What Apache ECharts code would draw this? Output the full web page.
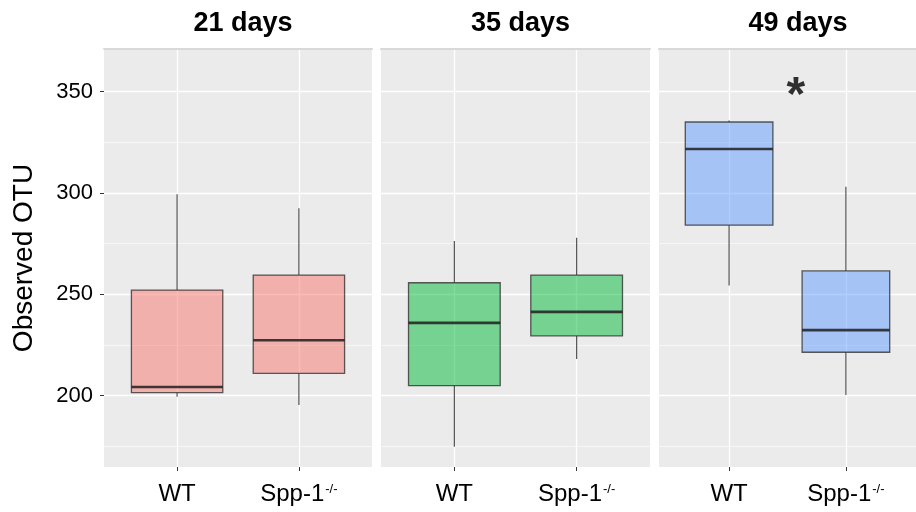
<!DOCTYPE html>
<html><head><meta charset="UTF-8">
<title>Observed OTU</title>
<script src="https://cdn.jsdelivr.net/npm/echarts@6/dist/echarts.min.js"></script>
<style>html,body{margin:0;padding:0;background:#fff;}</style>
</head>
<body>
<div id="main" style="width:916px;height:512px;"></div>
<script type="text/javascript">
// facets and groups
var panels = ['21 days', '35 days', '49 days'];
var groups = ['WT', 'Spp-1'];
var groupPos = [1, 2];
// box stats: [lower whisker, q1, median, q3, upper whisker]
var d21 = [[199.5, 201.5, 204.3, 252.1, 299.3], [195.4, 211.0, 227.3, 259.5, 292.5]];
var d35 = [[174.8, 204.9, 235.9, 255.7, 276.3], [218.1, 229.5, 241.3, 259.5, 277.9]];
var d49 = [[254.3, 284.1, 321.7, 335.0, 335.7], [200.3, 221.4, 232.3, 261.5, 303.1]];
var yTicks = [200, 250, 300, 350];
var yMinor = [175, 225, 275, 325];
var star = [1.52, 351];

var allData = [d21, d35, d49];
var fills = ['rgba(248,118,109,0.5)', 'rgba(0,186,56,0.5)', 'rgba(97,156,255,0.5)'];
var gridLeft = [104, 381, 659];
var gridWidth = [268, 269, 268];
var FONT = 'Liberation Sans, Arial, Helvetica, sans-serif';

function renderBox(params, api) {
    var x = api.value(0);
    var half = api.size([0.75, 0])[0] / 2;
    var lo = api.coord([x, api.value(1)]);
    var q1 = api.coord([x, api.value(2)]);
    var md = api.coord([x, api.value(3)]);
    var q3 = api.coord([x, api.value(4)]);
    var hi = api.coord([x, api.value(5)]);
    var cx = lo[0];
    var wStyle = {stroke: 'rgba(40,40,40,0.8)', lineWidth: 1.2};
    return {
        type: 'group',
        children: [
            {type: 'line', shape: {x1: cx, y1: q3[1], x2: cx, y2: hi[1]}, style: wStyle},
            {type: 'line', shape: {x1: cx, y1: q1[1], x2: cx, y2: lo[1]}, style: wStyle},
            {type: 'rect', shape: {x: cx - half, y: q3[1], width: half * 2, height: q1[1] - q3[1]},
                style: {fill: api.visual('color'), stroke: 'rgba(40,40,40,0.75)', lineWidth: 1.3}},
            {type: 'line', shape: {x1: cx - half, y1: md[1], x2: cx + half, y2: md[1]},
                style: {stroke: 'rgba(30,30,30,0.85)', lineWidth: 2.6}}
        ]
    };
}

var grid = [], xAxis = [], yAxis = [], series = [], title = [];
panels.forEach(function (p, i) {
    grid.push({left: gridLeft[i], top: 49, width: gridWidth[i], height: 418,
        show: true, backgroundColor: '#EBEBEB', borderWidth: 0});
    title.push({text: p, left: gridLeft[i] + gridWidth[i] / 2, top: 5, textAlign: 'center',
        textStyle: {fontFamily: FONT, fontSize: 27, fontWeight: 'bold', color: '#000'}});
});
// bottom x axes (groups)
panels.forEach(function (p, i) {
    xAxis.push({
        type: 'value', gridIndex: i, min: 0.4, max: 2.6,
        axisLine: {show: false},
        axisTick: {show: true, customValues: groupPos, length: 4, lineStyle: {color: '#333', width: 1}},
        axisLabel: {
            customValues: groupPos, margin: 11, color: '#000', fontFamily: FONT, fontSize: 24,
            formatter: function (v) {
                var g = groups[Math.round(v) - 1];
                return g === 'WT' ? '{n|WT}' : '{n|' + g + '}{s|-/-}';
            },
            rich: {
                n: {fontFamily: FONT, fontSize: 24, color: '#000', lineHeight: 28, verticalAlign: 'bottom'},
                s: {fontFamily: FONT, fontSize: 13, color: '#000', lineHeight: 14, verticalAlign: 'top', padding: [5, 0, 0, 1]}
            }
        },
        splitLine: {show: true, lineStyle: {color: '#fff', width: 1.3}}
    });
});
// top x axes: thin grey line on top of each panel
panels.forEach(function (p, i) {
    xAxis.push({
        type: 'value', gridIndex: i, position: 'top', min: 0.4, max: 2.6,
        axisLine: {show: true, lineStyle: {color: '#D9D9D9', width: 2}},
        axisTick: {show: false}, axisLabel: {show: false}, splitLine: {show: false}
    });
});
// main y axes
panels.forEach(function (p, i) {
    yAxis.push({
        type: 'value', gridIndex: i, min: 164.8, max: 371,
        name: i === 0 ? 'Observed OTU' : '',
        nameLocation: 'middle', nameRotate: 90, nameGap: 66,
        nameTextStyle: {fontFamily: FONT, fontSize: 28, color: '#000'},
        axisLine: {show: false},
        axisTick: {show: i === 0, customValues: yTicks, length: 4, lineStyle: {color: '#333', width: 1}},
        axisLabel: {show: i === 0, customValues: yTicks, margin: 11, color: '#000',
            fontFamily: FONT, fontSize: 22},
        splitLine: {show: true, lineStyle: {color: '#fff', width: 1.3}}
    });
});
// minor y grid lines
panels.forEach(function (p, i) {
    yAxis.push({
        type: 'value', gridIndex: i, min: 164.8, max: 371,
        axisLine: {show: false},
        axisTick: {show: false, customValues: yMinor},
        axisLabel: {show: false, customValues: yMinor},
        splitLine: {show: true, lineStyle: {color: '#fff', width: 0.6}}
    });
});
allData.forEach(function (d, i) {
    series.push({
        type: 'custom', name: panels[i], xAxisIndex: i, yAxisIndex: i,
        itemStyle: {color: fills[i]},
        renderItem: renderBox,
        data: d.map(function (s, j) { return [groupPos[j]].concat(s); }),
        z: 3
    });
});
series.push({
    type: 'scatter', xAxisIndex: 2, yAxisIndex: 2, symbolSize: 1,
    itemStyle: {color: 'rgba(0,0,0,0)'},
    label: {show: true, position: 'inside', formatter: '*', offset: [6, 7],
        fontFamily: FONT, fontSize: 48, fontWeight: 'bold', color: '#000'},
    data: [star], z: 5
});

var option = {
    animation: false,
    backgroundColor: '#fff',
    title: title,
    grid: grid,
    xAxis: xAxis,
    yAxis: yAxis,
    series: series
};
var myChart = echarts.init(document.getElementById('main'));
myChart.setOption(option);
</script>
</body></html>
